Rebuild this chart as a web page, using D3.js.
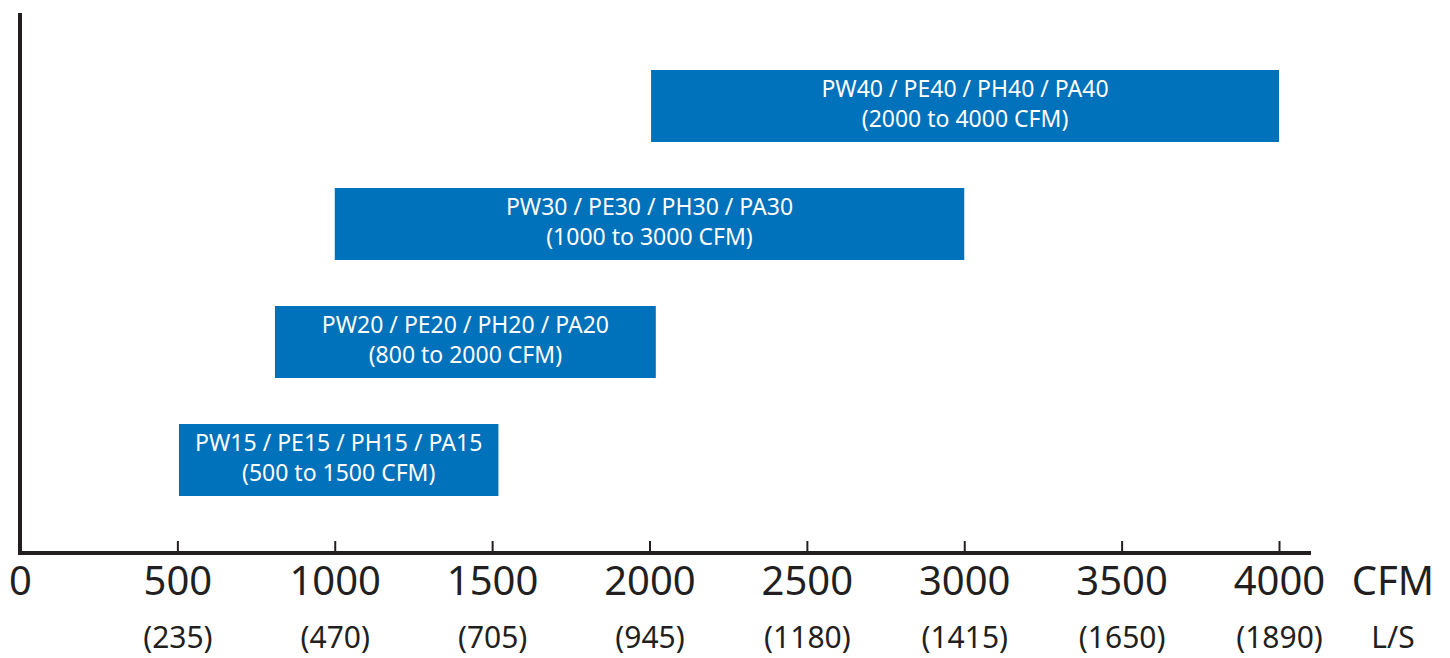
<!DOCTYPE html>
<html>
<head>
<meta charset="utf-8">
<script src="https://cdn.jsdelivr.net/npm/d3@7"></script>
<style>
  body { margin: 0; background: #fff; }
  svg text { font-family: "Noto Sans", sans-serif; }
</style>
</head>
<body>
<svg id="chart" width="1450" height="658"></svg>
<script>
const models = ['PW40 / PE40 / PH40 / PA40', 'PW30 / PE30 / PH30 / PA30', 'PW20 / PE20 / PH20 / PA20', 'PW15 / PE15 / PH15 / PA15'];
const ranges = ['(2000 to 4000 CFM)', '(1000 to 3000 CFM)', '(800 to 2000 CFM)', '(500 to 1500 CFM)'];
const starts = [2005, 1000, 810, 505];
const ends = [4000, 3000, 2020, 1520];
const cfmTicks = [0, 500, 1000, 1500, 2000, 2500, 3000, 3500, 4000];
const lsLabels = ['', '(235)', '(470)', '(705)', '(945)', '(1180)', '(1415)', '(1650)', '(1890)'];

const svg = d3.select('#chart');
const ink = '#231f20';
const blue = '#0071bb';

const x = d3.scaleLinear().domain([0, 4000]).range([20, 1279]);
const y = d3.scaleBand().domain(models).range([13, 553])
  .paddingInner(0.39).paddingOuter(0.483);

// bars
const bars = svg.append('g').selectAll('g')
  .data(models)
  .join('g');

bars.append('rect')
  .attr('x', (d, i) => x(starts[i]))
  .attr('width', (d, i) => x(ends[i]) - x(starts[i]))
  .attr('y', d => y(d))
  .attr('height', y.bandwidth())
  .attr('fill', blue);

bars.append('text')
  .attr('x', (d, i) => (x(starts[i]) + x(ends[i])) / 2)
  .attr('y', d => y(d) + y.bandwidth() / 2 - 9)
  .attr('text-anchor', 'middle')
  .attr('fill', '#fff')
  .attr('font-size', 23)
  .text(d => d);

bars.append('text')
  .attr('x', (d, i) => (x(starts[i]) + x(ends[i])) / 2)
  .attr('y', d => y(d) + y.bandwidth() / 2 + 21)
  .attr('text-anchor', 'middle')
  .attr('fill', '#fff')
  .attr('font-size', 23)
  .text((d, i) => ranges[i]);

// x axis, CFM
const xAxis = svg.append('g')
  .attr('transform', 'translate(0,553)')
  .call(d3.axisBottom(x).tickValues(cfmTicks).tickSize(-12).tickPadding(13).tickFormat(d3.format('d')));
xAxis.select('.domain').remove();
xAxis.selectAll('.tick line').attr('stroke', ink).attr('stroke-width', 2)
  .filter(d => d === 0).remove();
xAxis.selectAll('.tick text')
  .attr('fill', ink)
  .attr('font-size', 40)
  .attr('font-family', '"Noto Sans", sans-serif')
  .attr('dy', '0.72em');

// second row, L/S
const lsAxis = svg.append('g')
  .attr('transform', 'translate(0,553)')
  .call(d3.axisBottom(x).tickValues(cfmTicks).tickSize(0).tickPadding(73).tickFormat((d, i) => lsLabels[i]));
lsAxis.select('.domain').remove();
lsAxis.selectAll('.tick text')
  .attr('fill', ink)
  .attr('font-size', 30)
  .attr('font-family', '"Noto Sans", sans-serif')
  .attr('dy', '0.72em');

// axis lines
svg.append('line')
  .attr('x1', 18).attr('x2', 1311)
  .attr('y1', 553).attr('y2', 553)
  .attr('stroke', ink).attr('stroke-width', 4);
svg.append('line')
  .attr('x1', 20).attr('x2', 20)
  .attr('y1', 13).attr('y2', 555)
  .attr('stroke', ink).attr('stroke-width', 4);

// unit labels
svg.append('text')
  .attr('x', 1393).attr('y', 595)
  .attr('text-anchor', 'middle')
  .attr('fill', ink)
  .attr('font-size', 40)
  .text('CFM');
svg.append('text')
  .attr('x', 1393).attr('y', 648)
  .attr('text-anchor', 'middle')
  .attr('fill', ink)
  .attr('font-size', 30)
  .text('L/S');
</script>
</body>
</html>
